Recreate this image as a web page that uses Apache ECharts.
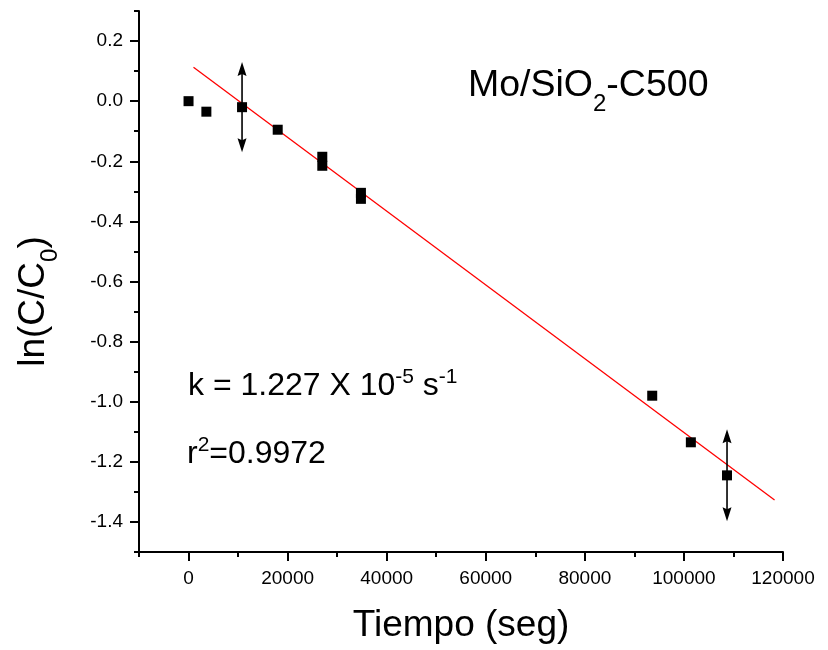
<!DOCTYPE html>
<html lang="es">
<head>
<meta charset="UTF-8">
<title>ln(C/C0) vs tiempo</title>
<script src="https://cdn.jsdelivr.net/npm/echarts@6.0.0/dist/echarts.min.js"></script>
<style>
  html, body { margin: 0; padding: 0; background: #fff; }
  #chart { width: 828px; height: 650px; }
</style>
</head>
<body>
<div id="chart"></div>
<script>
// datos
var timeS = [0, 3600, 10800, 18000, 27000, 27000, 34800, 34800, 93600, 101400, 108700];
var lnC   = [0.0, -0.035, -0.02, -0.095, -0.185, -0.215, -0.305, -0.325, -0.98, -1.135, -1.245];

// barras de error (indice del punto y semi-amplitud)
var errIdx  = [2, 10];
var errHalf = [0.15, 0.153];

// recta de ajuste (extremos)
var fitX = [1000, 118300];
var fitY = [0.113, -1.327];

// marcas de los ejes
var xMajor = [0, 20000, 40000, 60000, 80000, 100000, 120000];
var xMinor = [-10000, 10000, 30000, 50000, 70000, 90000, 110000];
var yMajor = [-1.4, -1.2, -1.0, -0.8, -0.6, -0.4, -0.2, 0.0, 0.2];
var yMinor = [-1.5, -1.3, -1.1, -0.9, -0.7, -0.5, -0.3, -0.1, 0.1, 0.3];

var FONT = '"Liberation Sans", Arial, sans-serif';

var chart = echarts.init(document.getElementById('chart'), null, {renderer: 'canvas'});

var points = [];
for (var i = 0; i < timeS.length; i++) {
	points.push([timeS[i], lnC[i]]);
}
var fitData = [];
for (var j = 0; j < fitX.length; j++) {
	fitData.push([fitX[j], fitY[j]]);
}
var errData = [];
for (var k = 0; k < errIdx.length; k++) {
	errData.push([timeS[errIdx[k]], lnC[errIdx[k]], errHalf[k]]);
}

// barra vertical con punta de flecha en ambos extremos
function errorBar(params, api) {
	var x = api.value(0), y = api.value(1), e = api.value(2);
	var top = api.coord([x, y + e]);
	var bot = api.coord([x, y - e]);
	var len = 14, hw = 4.5, notch = 2;
	return {
		type: 'group',
		children: [
			{
				type: 'line',
				shape: {x1: top[0], y1: top[1] + 4, x2: bot[0], y2: bot[1] - 4},
				style: {stroke: '#000', lineWidth: 1.6}
			},
			{
				type: 'polygon',
				shape: {points: [[top[0], top[1]], [top[0] - hw, top[1] + len], [top[0], top[1] + len - notch], [top[0] + hw, top[1] + len]]},
				style: {fill: '#000'}
			},
			{
				type: 'polygon',
				shape: {points: [[bot[0], bot[1]], [bot[0] - hw, bot[1] - len], [bot[0], bot[1] - len + notch], [bot[0] + hw, bot[1] - len]]},
				style: {fill: '#000'}
			}
		]
	};
}

var axisBlack = {color: '#000', width: 2};

var option = {
	animation: false,
	backgroundColor: '#fff',
	grid: {left: 139, right: 45, top: 11, bottom: 98, containLabel: false, outerBoundsMode: 'none'},
	xAxis: [
		{
			type: 'value', min: -10000, max: 120000, position: 'bottom',
			axisLine: {onZero: false, lineStyle: axisBlack},
			axisTick: {customValues: xMajor, length: 9, lineStyle: axisBlack},
			axisLabel: {
				customValues: xMajor, color: '#000', fontSize: 19, fontFamily: FONT, margin: 17,
				formatter: function (v) { return String(v); }
			},
			splitLine: {show: false},
			name: 'Tiempo (seg)', nameLocation: 'middle', nameGap: 55,
			nameTextStyle: {color: '#000', fontSize: 37, fontFamily: FONT}
		},
		{
			// solo marcas menores
			type: 'value', min: -10000, max: 120000, position: 'bottom',
			axisLine: {show: false, onZero: false},
			axisTick: {customValues: xMinor, length: 5, lineStyle: axisBlack},
			axisLabel: {show: false},
			splitLine: {show: false}
		}
	],
	yAxis: [
		{
			type: 'value', min: -1.5, max: 0.3, position: 'left',
			axisLine: {onZero: false, lineStyle: axisBlack},
			axisTick: {customValues: yMajor, length: 9, lineStyle: axisBlack},
			axisLabel: {
				customValues: yMajor, color: '#000', fontSize: 19, fontFamily: FONT, margin: 16,
				formatter: function (v) { return (Math.abs(v) < 1e-9 ? 0 : v).toFixed(1); }
			},
			splitLine: {show: false},
			name: '{m|ln(C/C}{s|0}{m|)}', nameLocation: 'middle', nameGap: 77,
			nameTextStyle: {
				padding: [0, 40, 0, 0],
				rich: {
					m: {color: '#000', fontSize: 37, fontFamily: FONT, lineHeight: 56},
					s: {color: '#000', fontSize: 24, fontFamily: FONT, lineHeight: 56, padding: [32, 0, 0, 0]}
				}
			}
		},
		{
			// solo marcas menores
			type: 'value', min: -1.5, max: 0.3, position: 'left',
			axisLine: {show: false, onZero: false},
			axisTick: {customValues: yMinor, length: 5, lineStyle: axisBlack},
			axisLabel: {show: false},
			splitLine: {show: false}
		}
	],
	series: [
		{
			name: 'ajuste', type: 'line', xAxisIndex: 0, yAxisIndex: 0,
			data: fitData, symbol: 'none', z: 2,
			lineStyle: {color: '#ff0000', width: 1.3}
		},
		{
			name: 'datos', type: 'scatter', xAxisIndex: 0, yAxisIndex: 0,
			data: points, symbol: 'rect', symbolSize: 10, z: 3,
			itemStyle: {color: '#000', opacity: 1}
		},
		{
			name: 'error', type: 'custom', xAxisIndex: 0, yAxisIndex: 0,
			data: errData, renderItem: errorBar, z: 4,
			encode: {x: 0, y: 1}
		}
	],
	graphic: [
		{
			type: 'text', left: 468, top: 56,
			style: {
				text: '{m|Mo/SiO}{s|2}{m|-C500}',
				rich: {
					m: {fill: '#000', fontSize: 37.5, fontFamily: FONT, lineHeight: 60},
					s: {fill: '#000', fontSize: 24, fontFamily: FONT, lineHeight: 60, padding: [36, 0, 0, 0]}
				}
			}
		},
		{
			type: 'text', left: 188, top: 367,
			style: {
				text: '{m|k = 1.227 X 10}{p|-5}{m| s}{p|-1}',
				rich: {
					m: {fill: '#000', fontSize: 32, fontFamily: FONT, lineHeight: 40},
					p: {fill: '#000', fontSize: 21, fontFamily: FONT, lineHeight: 40, padding: [0, 0, 18, 0]}
				}
			}
		},
		{
			type: 'text', left: 187, top: 435,
			style: {
				text: '{m|r}{p|2}{m|=0.9972}',
				rich: {
					m: {fill: '#000', fontSize: 32, fontFamily: FONT, lineHeight: 40},
					p: {fill: '#000', fontSize: 21, fontFamily: FONT, lineHeight: 40, padding: [0, 0, 18, 0]}
				}
			}
		}
	]
};

chart.setOption(option);
</script>
</body>
</html>
